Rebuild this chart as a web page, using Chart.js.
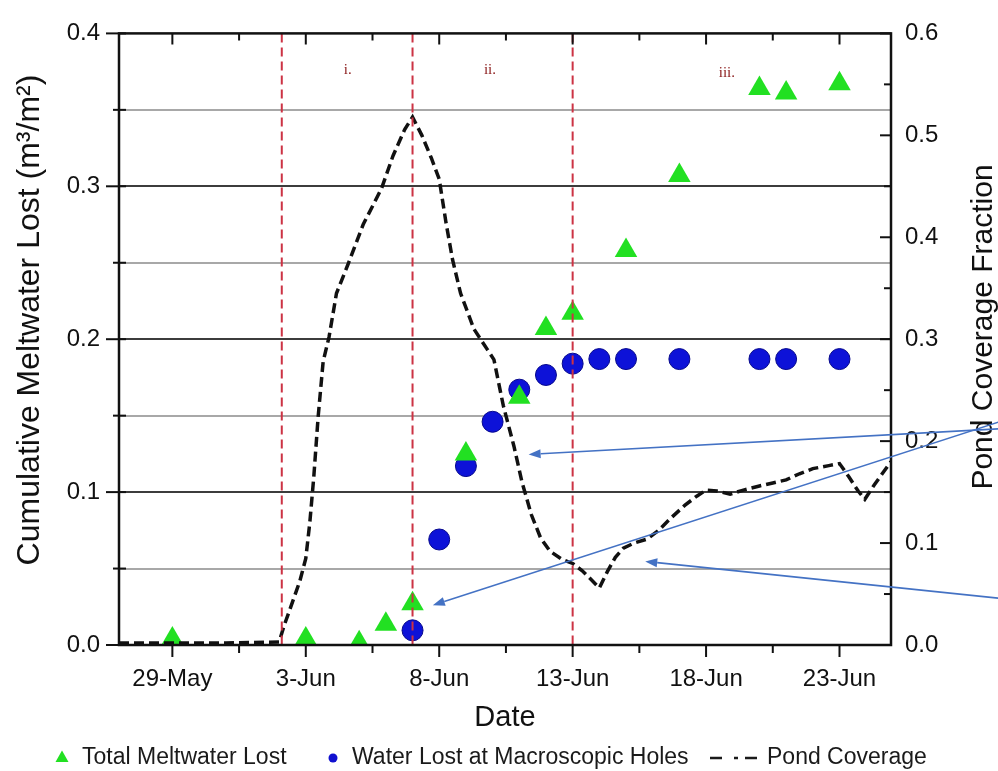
<!DOCTYPE html>
<html>
<head>
<meta charset="utf-8">
<script src="https://cdn.jsdelivr.net/npm/chart.js@4.4.0/dist/chart.umd.min.js"></script>
<style>
  html, body { margin: 0; padding: 0; background: #fff; }
  #wrap { width: 998px; height: 771px; }
</style>
</head>
<body>
<div id="wrap"><canvas id="c" width="998" height="771"></canvas></div>
<script>
// x values are days after 29-May
const xTickDays = [0, 5, 10, 15, 20, 25];
const xTickLabels = ['29-May', '3-Jun', '8-Jun', '13-Jun', '18-Jun', '23-Jun'];

const totalDays = [0, 5, 7, 8, 9, 11, 13, 14, 15, 17, 19, 22, 23, 25];
const totalLost = [0.004, 0.004, 0.0015, 0.0135, 0.027, 0.125, 0.162, 0.207, 0.217, 0.258, 0.307, 0.364, 0.361, 0.367];

const holeDays = [9, 10, 11, 12, 13, 14, 15, 16, 17, 19, 22, 23, 25];
const holeLost = [0.0096, 0.069, 0.117, 0.146, 0.167, 0.1766, 0.184, 0.187, 0.187, 0.187, 0.187, 0.187, 0.187];

const pondDays = [-2, 0, 2, 4.0, 4.2, 4.5, 4.78, 5.0, 5.15, 5.3, 5.46, 5.65, 5.87, 6.15, 6.59, 7.15, 7.84, 8.27, 8.71, 9.0,
  9.35, 9.7, 10.0, 10.25, 10.5, 10.8, 11.3, 11.8, 12.05, 12.4, 12.8, 13.1, 13.45, 13.8, 14.15, 14.6, 15.0, 15.35, 15.7, 16.0,
  16.3, 16.6, 16.9, 17.3, 17.8, 18.2, 18.7, 19.2, 19.65, 20.0, 20.4, 20.9, 21.4, 22.0, 22.5, 23.0, 23.5, 24.0, 24.6, 25.0,
  25.35, 25.7, 25.95, 26.3, 26.93];
const pondCover = [0.002, 0.002, 0.002, 0.003, 0.02, 0.042, 0.063, 0.085, 0.12, 0.165, 0.223, 0.278, 0.302, 0.345, 0.374, 0.4125, 0.448, 0.48, 0.506, 0.518,
  0.5, 0.478, 0.457, 0.415, 0.378, 0.345, 0.31, 0.29, 0.28, 0.235, 0.195, 0.16, 0.128, 0.105, 0.092, 0.084, 0.08, 0.073, 0.064, 0.056,
  0.072, 0.086, 0.095, 0.1, 0.104, 0.112, 0.125, 0.137, 0.146, 0.152, 0.151, 0.148, 0.152, 0.156, 0.159, 0.162, 0.168, 0.173, 0.176, 0.178,
  0.165, 0.151, 0.143, 0.157, 0.18];

// stage boundaries and labels
const stageLines = [4.1, 9.0, 15.0];
const stageLabels = [['i.', 6.57, 0.376], ['ii.', 11.9, 0.376], ['iii.', 20.78, 0.374]];

// annotation arrows: [tailDay, tailCover, tipDay, tipCover] (right axis)
const arrows = [
  [30.95, 0.212, 13.35, 0.187],
  [30.95, 0.2186, 9.76, 0.039],
  [30.95, 0.046, 17.72, 0.082],
];

const FONT = '"Liberation Sans", Arial, sans-serif';
const pts = (xs, ys) => xs.map((x, i) => ({ x, y: ys[i] }));
const isMajor = v => Math.abs(v * 10 - Math.round(v * 10)) < 1e-6;

const overlay = {
  id: 'overlay',
  afterDatasetsDraw(chart) {
    const { ctx, chartArea: a, scales } = chart;
    const x = scales.x, y = scales.y, y2 = scales.y2;
    ctx.save();
    // stage dashed lines
    ctx.strokeStyle = '#cc3344';
    ctx.lineWidth = 2;
    ctx.setLineDash([9, 5]);
    stageLines.forEach(d => {
      const px = x.getPixelForValue(d);
      ctx.beginPath(); ctx.moveTo(px, a.top); ctx.lineTo(px, a.bottom); ctx.stroke();
    });
    ctx.setLineDash([]);
    ctx.fillStyle = '#8b1a1a';
    ctx.font = '15px "Liberation Serif", serif';
    ctx.textAlign = 'center'; ctx.textBaseline = 'middle';
    stageLabels.forEach(([t, d, v]) => ctx.fillText(t, x.getPixelForValue(d), y.getPixelForValue(v)));

    // frame
    ctx.strokeStyle = '#111';
    ctx.lineWidth = 2.5;
    ctx.strokeRect(a.left, a.top, a.right - a.left, a.bottom - a.top);
    // tick marks
    ctx.lineWidth = 2;
    x.ticks.forEach(t => {
      const px = x.getPixelForValue(t.value);
      const maj = xTickDays.includes(t.value);
      ctx.beginPath();
      ctx.moveTo(px, a.bottom); ctx.lineTo(px, a.bottom + (maj ? 12 : 8));
      ctx.moveTo(px, a.top); ctx.lineTo(px, a.top + (maj ? 11 : 7));
      ctx.stroke();
    });
    y.ticks.forEach(t => {
      const py = y.getPixelForValue(t.value);
      ctx.beginPath();
      ctx.moveTo(a.left - (isMajor(t.value) ? 13 : 6), py); ctx.lineTo(a.left + 7, py);
      ctx.stroke();
    });
    y2.ticks.forEach(t => {
      const py = y2.getPixelForValue(t.value);
      ctx.beginPath();
      ctx.moveTo(a.right - (isMajor(t.value) ? 11 : 7), py); ctx.lineTo(a.right, py);
      ctx.stroke();
    });
    ctx.restore();
  },
  afterDraw(chart) {
    const { ctx, scales } = chart;
    const x = scales.x, y2 = scales.y2;
    ctx.save();
    ctx.fillStyle = '#111';
    ctx.textAlign = 'center'; ctx.textBaseline = 'middle';
    // axis titles
    ctx.font = '29px ' + FONT;
    ctx.fillText('Date', 505, 718);
    ctx.save();
    ctx.translate(30, 320); ctx.rotate(-Math.PI / 2);
    ctx.font = '32px ' + FONT;
    ctx.fillText('Cumulative Meltwater Lost (m³/m²)', 0, 0);
    ctx.restore();
    ctx.save();
    ctx.translate(984, 327); ctx.rotate(-Math.PI / 2);
    ctx.font = '30px ' + FONT;
    ctx.fillText('Pond Coverage Fraction', 0, 0);
    ctx.restore();

    // legend
    const ly = 758;
    ctx.font = '23px ' + FONT;
    ctx.textAlign = 'left';
    ctx.fillStyle = '#22e022';
    ctx.beginPath();
    ctx.moveTo(62, ly - 7.5); ctx.lineTo(68.5, ly + 4); ctx.lineTo(55.5, ly + 4); ctx.closePath(); ctx.fill();
    ctx.fillStyle = '#1a1a1a';
    ctx.fillText('Total Meltwater Lost', 82, ly);
    ctx.fillStyle = '#1010d0';
    ctx.beginPath(); ctx.arc(333, ly, 4.5, 0, Math.PI * 2); ctx.fill();
    ctx.fillStyle = '#1a1a1a';
    ctx.fillText('Water Lost at Macroscopic Holes', 352, ly);
    ctx.strokeStyle = '#1a1a1a'; ctx.lineWidth = 2.5;
    ctx.beginPath();
    ctx.moveTo(710, ly); ctx.lineTo(722, ly);
    ctx.moveTo(734, ly); ctx.lineTo(738, ly);
    ctx.moveTo(745, ly); ctx.lineTo(757, ly);
    ctx.stroke();
    ctx.fillText('Pond Coverage', 767, ly);

    // blue arrows
    ctx.strokeStyle = '#4472c4'; ctx.fillStyle = '#4472c4'; ctx.lineWidth = 1.6;
    arrows.forEach(([d0, v0, d1, v1]) => {
      const x0 = x.getPixelForValue(d0), y0 = y2.getPixelForValue(v0);
      const x1 = x.getPixelForValue(d1), y1 = y2.getPixelForValue(v1);
      const ang = Math.atan2(y1 - y0, x1 - x0);
      const hl = 12, hw = 4.5;
      const bx = x1 - Math.cos(ang) * hl, by = y1 - Math.sin(ang) * hl;
      ctx.beginPath(); ctx.moveTo(x0, y0); ctx.lineTo(bx, by); ctx.stroke();
      ctx.beginPath();
      ctx.moveTo(x1, y1);
      ctx.lineTo(bx + Math.sin(ang) * hw, by - Math.cos(ang) * hw);
      ctx.lineTo(bx - Math.sin(ang) * hw, by + Math.cos(ang) * hw);
      ctx.closePath(); ctx.fill();
    });
    ctx.restore();
  }
};

new Chart(document.getElementById('c'), {
  type: 'scatter',
  data: {
    datasets: [
      {
        label: 'Pond Coverage', data: pts(pondDays, pondCover), yAxisID: 'y2',
        showLine: true, pointRadius: 0, borderColor: '#111', borderWidth: 3.5, borderDash: [10, 5],
        tension: 0, order: 0
      },
      {
        label: 'Total Meltwater Lost', data: pts(totalDays, totalLost), yAxisID: 'y',
        pointStyle: 'triangle', pointRadius: 13, backgroundColor: '#22e022', borderColor: '#22e022', borderWidth: 0, order: 1
      },
      {
        label: 'Water Lost at Macroscopic Holes', data: pts(holeDays, holeLost), yAxisID: 'y',
        pointStyle: 'circle', pointRadius: 10.5, backgroundColor: '#0d12d8', borderColor: '#06088c', borderWidth: 1, order: 2
      }
    ]
  },
  options: {
    responsive: false,
    animation: false,
    devicePixelRatio: 1,
    layout: { padding: { top: 22, left: 0, right: 0, bottom: 0 } },
    plugins: { legend: { display: false }, tooltip: { enabled: false } },
    scales: {
      x: {
        type: 'linear', position: 'bottom', min: -2, max: 26.93,
        afterFit: s => { s.height = 126; },
        border: { display: false },
        grid: { display: false, drawTicks: false },
        ticks: {
          stepSize: 2.5, includeBounds: false, autoSkip: false, maxRotation: 0, padding: 20,
          color: '#111', font: { family: FONT, size: 24 },
          callback: v => { const i = xTickDays.indexOf(v); return i >= 0 ? xTickLabels[i] : ''; }
        }
      },
      y: {
        position: 'left', min: 0, max: 0.4,
        afterFit: s => { s.width = 119; },
        border: { display: false },
        grid: {
          drawTicks: false, lineWidth: 2,
          color: c => (c.tick.value <= 0 || c.tick.value >= 0.4 - 1e-9) ? 'rgba(0,0,0,0)' : (isMajor(c.tick.value) ? '#3c3c3c' : '#a8a8a8')
        },
        ticks: {
          stepSize: 0.05, padding: 19, color: '#111', font: { family: FONT, size: 24 },
          callback: v => isMajor(v) ? v.toFixed(1) : ''
        }
      },
      y2: {
        position: 'right', min: 0, max: 0.6,
        afterFit: s => { s.width = 107; },
        border: { display: false },
        grid: { display: false, drawTicks: false },
        ticks: {
          stepSize: 0.05, padding: 14, color: '#111', font: { family: FONT, size: 24 },
          callback: v => isMajor(v) ? v.toFixed(1) : ''
        }
      }
    }
  },
  plugins: [overlay]
});
</script>
</body>
</html>
